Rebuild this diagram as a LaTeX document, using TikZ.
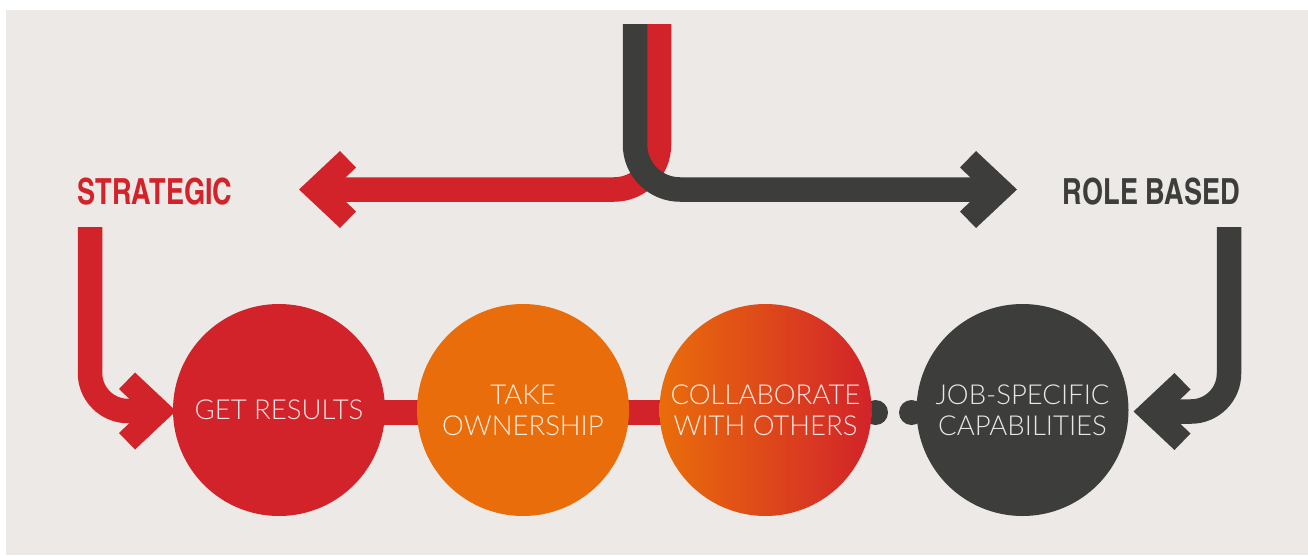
\documentclass[tikz,border=0pt]{standalone}
\usepackage{fontspec}
\usetikzlibrary{calc}
% condensed bold for the two headings, a light sans for the stage names
\newfontfamily\headfont[FakeStretch=0.92]{texgyreheroscn-bold.otf}
\IfFontExistsTF{Lato Light}{\newfontfamily\thinfont{Lato Light}}{%
  \IfFontExistsTF{Fira Sans Light}{\newfontfamily\thinfont{Fira Sans Light}}{%
    \IfFontExistsTF{Open Sans Light}{\newfontfamily\thinfont{Open Sans Light}}{%
      \newfontfamily\thinfont{Liberation Sans}}}}

\definecolor{cRed}{HTML}{D2232A}
\definecolor{cOrange}{HTML}{E96D0A}
\definecolor{cDark}{HTML}{3D3D3C}
\definecolor{cPaper}{HTML}{ECE9E6}

\pgfdeclarelayer{paper}
\pgfdeclarelayer{back}
\pgfsetlayers{paper,back,main}

\begin{document}
\begin{tikzpicture}[x=1pt,y=-1pt,
  bar/.style={line width=24.5pt},
  chevron/.pic={\fill (0,0) -- (-41,-38.5) -- (-57,-22) -- (-34,0) -- (-57,22) -- (-41,38.5) -- cycle;},
  stage/.style={circle, minimum size=212pt, inner sep=0pt, outer sep=0pt,
    text=white, text opacity=0.88, align=center,
    font=\thinfont\fontsize{27.5}{31}\selectfont},
  heading/.style={anchor=base, font=\headfont\fontsize{36}{40}\selectfont},
  knob/.style={circle, fill=cDark, minimum size=25pt, inner sep=0pt, outer sep=0pt}]

% page and paper
\begin{pgfonlayer}{paper}
  \fill[white] (0,0) rectangle (1308,555);
  \fill[cPaper] (6,10) rectangle (1308,555);
\end{pgfonlayer}
\useasboundingbox (0,0) rectangle (1308,555);

% headings
\node[heading, text=cRed]  (strat) at (155,204)   {STRATEGIC};
\node[heading, text=cDark] (role)  at (1151.5,204) {ROLE BASED};

% the two knobs between the last stages
\node[knob] (knobL) at (875.5,412.5) {};
\node[knob] (knobR) at (911.5,412.5) {};

% stages
\node[stage, fill=cRed]    (c1) at (279,410)    {GET RESULTS};
\node[stage, fill=cOrange] (c2) at (523,410)    {TAKE\\OWNERSHIP};
\node[stage, left color=cOrange, right color=cRed] (c3) at (765.5,410) {COLLABORATE\\WITH OTHERS};
\node[stage, fill=cDark]   (c4) at (1022.5,410) {JOB-SPECIFIC\\CAPABILITIES};

% links between stages
\begin{pgfonlayer}{back}
  \draw[bar, cRed] ([yshift=-2.5pt]c1.center) -- ([yshift=-2.5pt]c2.center);
  \draw[bar, cRed] ([yshift=-2.5pt]c2.center) -- ([yshift=-2.5pt]c3.center);
\end{pgfonlayer}

% split at the top: red turns left, dark turns right
\coordinate (srcR) at (659,24);
\coordinate (srcD) at (635,24);
\coordinate (tipR) at (299,189.5);
\coordinate (tipD) at (1017,189.5);
\draw[bar, cRed, rounded corners=45pt] (srcR) |- ($(tipR)+(34,0)$);
\pic[cRed, rotate=180] at (tipR) {chevron};
\draw[bar, cDark, rounded corners=45pt] (srcD) |- ($(tipD)+(-34,0)$);
\pic[cDark] at (tipD) {chevron};

% from each heading down into the row of stages
\coordinate (fromStrat) at (90,227);
\coordinate (fromRole)  at (1229,227);
\coordinate (tipL)  at ($(c1.west)+(3,1)$);
\coordinate (tipRt) at ($(c4.east)+(5,1.5)$);
\draw[bar, cRed, rounded corners=38pt] (fromStrat) |- ($(tipL)+(-34,0)$);
\pic[cRed] at (tipL) {chevron};
\draw[bar, cDark, rounded corners=38pt] (fromRole) |- ($(tipRt)+(34,0)$);
\pic[cDark, rotate=180] at (tipRt) {chevron};

\end{tikzpicture}
\end{document}
